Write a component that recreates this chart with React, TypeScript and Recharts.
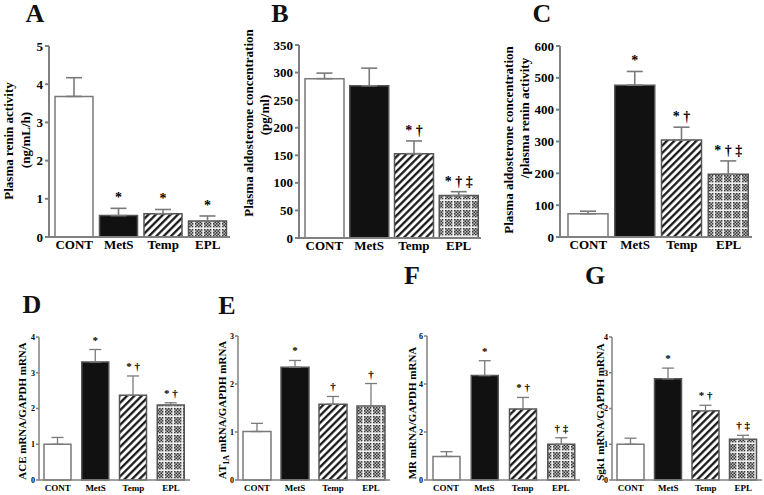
import React from 'react';
import { BarChart, Bar, XAxis, YAxis, ErrorBar, Cell, LabelList } from 'recharts';

const groups = ['CONT', 'MetS', 'Temp', 'EPL'];

// top row
const reninMean = [3.68, 0.56, 0.61, 0.42];
const reninErr = [0.49, 0.19, 0.11, 0.13];
const reninMarks = ['', '*', '*', '*'];
const reninTicks = [0, 1, 2, 3, 4, 5];

const aldoMean = [289, 276, 153, 77];
const aldoErr = [10, 32, 23, 7];
const aldoMarks = ['', '', '* †', '* † ‡'];
const aldoTicks = [0, 50, 100, 150, 200, 250, 300, 350];

const ratioMean = [73, 477, 305, 197];
const ratioErr = [8, 43, 40, 42];
const ratioMarks = ['', '*', '* †', '* † ‡'];
const ratioTicks = [0, 100, 200, 300, 400, 500, 600];

// bottom row (mRNA / GAPDH)
const aceMean = [1.0, 3.3, 2.37, 2.1];
const aceErr = [0.19, 0.35, 0.54, 0.06];
const aceMarks = ['', '*', '* †', '* †'];
const aceTicks = [0, 1, 2, 3, 4];

const at1aMean = [1.01, 2.35, 1.58, 1.54];
const at1aErr = [0.17, 0.14, 0.16, 0.47];
const at1aMarks = ['', '*', '†', '†'];
const at1aTicks = [0, 1, 2, 3];

const mrMean = [0.98, 4.35, 2.96, 1.49];
const mrErr = [0.2, 0.62, 0.48, 0.27];
const mrMarks = ['', '*', '* †', '† ‡'];
const mrTicks = [0, 2, 4, 6];

const sgkMean = [1.0, 2.83, 1.94, 1.14];
const sgkErr = [0.17, 0.3, 0.15, 0.11];
const sgkMarks = ['', '*', '* †', '† ‡'];
const sgkTicks = [0, 1, 2, 3, 4];

const fills = ['#ffffff', '#111111', 'url(#hatch)', 'url(#dots)'];
const serif = '"Liberation Serif", "Times New Roman", serif';

type Line = { text: React.ReactNode; x: number; y: number };

type PanelProps = {
  mean: number[];
  err: number[];
  marks: string[];
  ticks: number[];
  axisX: number;
  plotRight: number;
  top: number;
  zero: number;
  padLeft: number;
  barSize: number;
  small?: boolean;
  ylabel: Line[];
};

function Panel(p: PanelProps) {
  const s = !!p.small;
  const yW = s ? 14 : 24;
  const mLeft = s ? 22 : 46;
  const mTop = s ? 10 : 24;
  const xH = s ? 15 : 24;
  const left = p.axisX - yW - mLeft;
  const chartTop = p.top - mTop;
  const width = p.plotRight - left + 2;
  const height = p.zero - p.top + mTop + xH;
  const axisW = s ? 1.5 : 2;
  const labelSize = s ? 11 : 13;

  const data = groups.map((g, i) => ({
    group: g,
    mean: p.mean[i],
    range: [0, p.err[i]],
    mark: p.marks[i],
  }));

  const renderMark = (props: any) => {
    const { x, y, width: w, height: h, index, value } = props;
    if (!value) return null;
    const d = data[index];
    const errPx = (p.err[index] * h) / d.mean;
    return (
      <text
        x={x + w / 2}
        y={y - errPx - 6}
        textAnchor="middle"
        fontFamily={serif}
        fontWeight="bold"
        fontSize={s ? 11 : 14}
        fill="#000"
        style={{ whiteSpace: 'pre' }}
      >
        {value}
      </text>
    );
  };

  const renderYLabel = () => (
    <g>
      {p.ylabel.map((l, i) => {
        const lx = l.x - left;
        const ly = l.y - chartTop;
        return (
          <text
            key={i}
            x={lx}
            y={ly}
            transform={`rotate(-90 ${lx} ${ly})`}
            textAnchor="middle"
            dominantBaseline="central"
            fontFamily={serif}
            fontWeight="bold"
            fontSize={labelSize}
            fill="#000"
          >
            {l.text}
          </text>
        );
      })}
    </g>
  );

  return (
    <div style={{ position: 'absolute', left, top: chartTop }}>
      <BarChart
        width={width}
        height={height}
        data={data}
        margin={{ top: mTop, right: 2, bottom: 0, left: mLeft }}
        barSize={p.barSize}
      >
        <XAxis
          dataKey="group"
          height={xH}
          padding={{ left: p.padLeft, right: 0 }}
          tickLine={false}
          tickSize={0}
          tickMargin={s ? 5 : 3}
          axisLine={{ stroke: '#808080', strokeWidth: axisW }}
          tick={{ fill: '#000', fontFamily: serif, fontWeight: 'bold', fontSize: s ? 9 : 13 }}
          interval={0}
        />
        <YAxis
          width={yW}
          type="number"
          domain={[p.ticks[0], p.ticks[p.ticks.length - 1]]}
          ticks={p.ticks}
          interval={0}
          tickSize={s ? 3 : 4}
          tickMargin={s ? 1 : 2}
          axisLine={{ stroke: '#808080', strokeWidth: axisW }}
          tickLine={{ stroke: '#808080', strokeWidth: axisW }}
          tick={{ fill: '#000', fontFamily: serif, fontWeight: 'bold', fontSize: s ? 8 : 13 }}
          label={{ content: renderYLabel }}
        />
        <Bar dataKey="mean" isAnimationActive={false} stroke="#555" strokeWidth={1.5}>
          {data.map((d, i) => (
            <Cell key={d.group} fill={fills[i]} stroke={i === 0 ? '#7a7a7a' : '#555'} />
          ))}
          <ErrorBar dataKey="range" width={s ? 6 : 8} stroke="#7a7a7a" strokeWidth={s ? 1.3 : 1.6} direction="y" />
          <LabelList dataKey="mark" content={renderMark} />
        </Bar>
      </BarChart>
    </div>
  );
}

function Letter({ ch, x, y }: { ch: string; x: number; y: number }) {
  return (
    <div
      style={{
        position: 'absolute',
        left: x,
        top: y,
        transform: 'translate(-50%, -50%)',
        fontFamily: serif,
        fontWeight: 'bold',
        fontSize: 26,
        lineHeight: 1,
        color: '#111',
      }}
    >
      {ch}
    </div>
  );
}

export default function App() {
  return (
    <div
      style={{
        position: 'absolute',
        left: 0,
        top: 0,
        width: 764,
        height: 495,
        background: '#fff',
        overflow: 'hidden',
      }}
    >
      <svg width={0} height={0} style={{ position: 'absolute' }}>
        <defs>
          <pattern id="hatch" width={5.2} height={5.2} patternUnits="userSpaceOnUse" patternTransform="rotate(45)">
            <rect width={5.2} height={5.2} fill="#fff" />
            <line x1={1.2} y1={0} x2={1.2} y2={5.2} stroke="#111" strokeWidth={2.2} />
          </pattern>
          <pattern id="dots" width={9} height={9} patternUnits="userSpaceOnUse">
            <rect width={9} height={9} fill="#b8b8b8" />
            <rect x={0} y={0} width={1.5} height={1.5} fill="#3a3a3a" />
            <rect x={3} y={0} width={1.5} height={1.5} fill="#3a3a3a" />
            <rect x={6} y={0} width={1.5} height={1.5} fill="#3a3a3a" />
            <rect x={1.5} y={1.5} width={1.5} height={1.5} fill="#3a3a3a" />
            <rect x={4.5} y={1.5} width={1.5} height={1.5} fill="#3a3a3a" />
            <rect x={0} y={3} width={1.5} height={1.5} fill="#3a3a3a" />
            <rect x={3} y={3} width={1.5} height={1.5} fill="#3a3a3a" />
            <rect x={6} y={3} width={1.5} height={1.5} fill="#3a3a3a" />
            <rect x={1.5} y={4.5} width={1.5} height={1.5} fill="#3a3a3a" />
            <rect x={4.5} y={4.5} width={1.5} height={1.5} fill="#3a3a3a" />
            <rect x={0} y={6} width={1.5} height={1.5} fill="#3a3a3a" />
            <rect x={3} y={6} width={1.5} height={1.5} fill="#3a3a3a" />
            <rect x={6} y={6} width={1.5} height={1.5} fill="#3a3a3a" />
            <rect x={7.5} y={0} width={1.5} height={9} fill="#eeeeee" />
            <rect x={0} y={7.5} width={9} height={1.5} fill="#eeeeee" />
          </pattern>
        </defs>
      </svg>

      <Letter ch="A" x={35} y={14} />
      <Letter ch="B" x={280} y={14} />
      <Letter ch="C" x={542} y={14} />
      <Letter ch="D" x={32} y={305} />
      <Letter ch="E" x={227} y={306} />
      <Letter ch="F" x={412} y={276} />
      <Letter ch="G" x={595} y={276} />

      <Panel
        mean={reninMean} err={reninErr} marks={reninMarks} ticks={reninTicks}
        axisX={49} plotRight={230} top={46} zero={237} padLeft={3} barSize={38}
        ylabel={[
          { text: 'Plasma renin activity', x: 8, y: 141 },
          { text: '(ng/mL/h)', x: 25, y: 140 },
        ]}
      />
      <Panel
        mean={aldoMean} err={aldoErr} marks={aldoMarks} ticks={aldoTicks}
        axisX={299} plotRight={481} top={45} zero={238} padLeft={3} barSize={39}
        ylabel={[
          { text: 'Plasma aldosterone concentration', x: 248, y: 123 },
          { text: '(pg/ml)', x: 264, y: 115 },
        ]}
      />
      <Panel
        mean={ratioMean} err={ratioErr} marks={ratioMarks} ticks={ratioTicks}
        axisX={560} plotRight={752} top={46} zero={237} padLeft={5} barSize={40}
        ylabel={[
          { text: 'Plasma aldosterone concentration', x: 508, y: 140 },
          { text: '/plasma renin activity', x: 524, y: 118 },
        ]}
      />

      <Panel
        small
        mean={aceMean} err={aceErr} marks={aceMarks} ticks={aceTicks}
        axisX={39} plotRight={190} top={337} zero={480} padLeft={0} barSize={27}
        ylabel={[{ text: 'ACE mRNA/GAPDH mRNA', x: 22, y: 411 }]}
      />
      <Panel
        small
        mean={at1aMean} err={at1aErr} marks={at1aMarks} ticks={at1aTicks}
        axisX={238} plotRight={390} top={336} zero={480} padLeft={0} barSize={28}
        ylabel={[
          {
            text: (
              <>
                AT<tspan fontSize={8} baselineShift="sub">1A</tspan> mRNA/GAPDH mRNA
              </>
            ),
            x: 222,
            y: 410,
          },
        ]}
      />
      <Panel
        small
        mean={mrMean} err={mrErr} marks={mrMarks} ticks={mrTicks}
        axisX={427} plotRight={580} top={336} zero={480} padLeft={0} barSize={27}
        ylabel={[{ text: 'MR mRNA/GAPDH mRNA', x: 412, y: 413 }]}
      />
      <Panel
        small
        mean={sgkMean} err={sgkErr} marks={sgkMarks} ticks={sgkTicks}
        axisX={612} plotRight={762} top={337} zero={480} padLeft={0} barSize={27}
        ylabel={[{ text: 'Sgk1 mRNA/GAPDH mRNA', x: 600, y: 412 }]}
      />
    </div>
  );
}
